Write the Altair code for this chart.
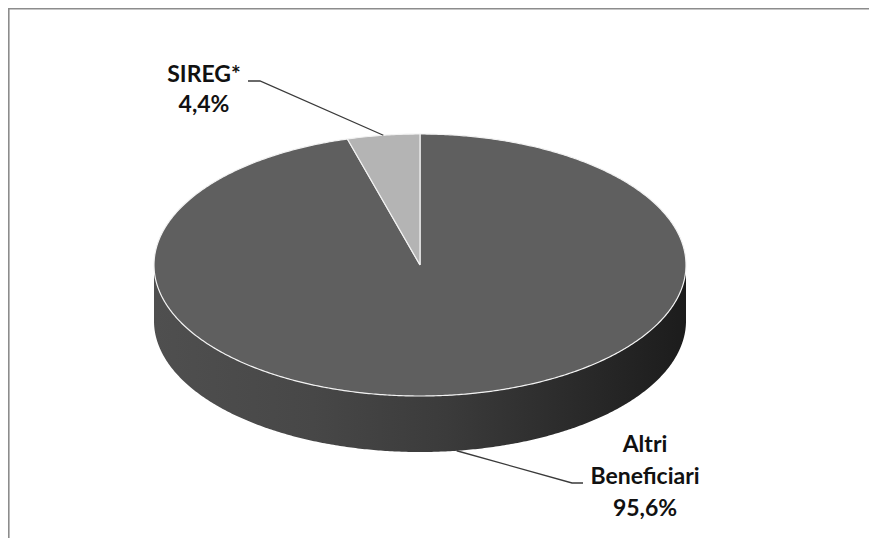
import math
import pandas as pd
import altair as alt

# ---- data ----
categories = ["Altri Beneficiari", "SIREG*"]
values = [95.6, 4.4]
label_lines = [["Altri", "Beneficiari"], ["SIREG*"]]
top_colors = ["#5f5f5f", "#b4b4b4"]

# ---- layout (page pixel units) ----
CX, CY, RX, RY, DEPTH = 420, 265, 266, 131, 56
label_pos = [(645, 452), (204, 82)]
label_line_height = [32, 30]
leader_elbows = [[(572, 483), (583, 483)], [(260, 81), (248, 81)]]


def pt(a_deg, dy=0.0):
    a = math.radians(a_deg)
    return CX + RX * math.sin(a), CY - RY * math.cos(a) + dy


def arc(a0, a1, dy=0.0, step=0.5):
    n = max(2, int(abs(a1 - a0) / step) + 1)
    return [pt(a0 + (a1 - a0) * k / (n - 1), dy) for k in range(n)]


total = sum(values)
starts, ends = [], []
acc = 0.0
for v in values:
    starts.append(360 * acc / total)
    acc += v
    ends.append(360 * acc / total)

X = alt.X("x:Q", scale=alt.Scale(domain=[8, 869], nice=False, zero=False), axis=None)
Y = alt.Y("y:Q", scale=alt.Scale(domain=[8, 538], nice=False, zero=False, reverse=True), axis=None)


def poly_df(points):
    return pd.DataFrame({"x": [p[0] for p in points], "y": [p[1] for p in points], "i": range(len(points))})


layers = []

# side walls (visible front half: 90..270 deg)
side_grad = alt.Gradient(
    gradient="linear",
    stops=[
        alt.GradientStop(color="#4f4f4f", offset=0),
        alt.GradientStop(color="#474747", offset=0.3),
        alt.GradientStop(color="#3b3b3b", offset=0.55),
        alt.GradientStop(color="#2b2b2b", offset=0.78),
        alt.GradientStop(color="#1c1c1c", offset=1),
    ],
    x1=0, x2=1, y1=0, y2=0,
)
for s, e in zip(starts, ends):
    a0, a1 = max(s, 90), min(e, 270)
    if a1 > a0:
        pts = arc(a0, a1) + arc(a1, a0, DEPTH)
        pts.append(pts[0])
        layers.append(
            alt.Chart(poly_df(pts)).mark_line(fill=side_grad, strokeWidth=0, strokeOpacity=0)
            .encode(x=X, y=Y, order="i:Q")
        )

# top faces
for s, e, c in zip(starts, ends, top_colors):
    pts = [(CX, CY)] + arc(s, e) + [(CX, CY)]
    layers.append(
        alt.Chart(poly_df(pts)).mark_line(fill=c, stroke="#f2f2f2", strokeWidth=1.2, strokeJoin="round")
        .encode(x=X, y=Y, order="i:Q")
    )

# leader lines
for k, (s, e) in enumerate(zip(starts, ends)):
    mid = (s + e) / 2
    dy = DEPTH if 90 < mid < 270 else 0
    anchor = pt(mid, dy)
    pts = [anchor] + leader_elbows[k]
    layers.append(
        alt.Chart(poly_df(pts)).mark_line(color="#3a3a3a", strokeWidth=1.3)
        .encode(x=X, y=Y, order="i:Q")
    )

# labels
for k, v in enumerate(values):
    txt = "\n".join(label_lines[k] + [f"{v:.1f}%".replace(".", ",")])
    df = pd.DataFrame({"x": [label_pos[k][0]], "y": [label_pos[k][1]], "t": [txt]})
    layers.append(
        alt.Chart(df).mark_text(
            align="center", baseline="alphabetic", font="Lato", fontWeight="bold",
            fontSize=23, lineBreak="\n", lineHeight=label_line_height[k], color="#111111",
        ).encode(x=X, y=Y, text="t:N")
    )

# frame (top and left border)
layers.append(
    alt.Chart(pd.DataFrame({"a": [0]})).mark_rule(color="#8c8c8c", strokeWidth=1.6)
    .encode(x=alt.value(0), x2=alt.value(861), y=alt.value(0.8))
)
layers.append(
    alt.Chart(pd.DataFrame({"a": [0]})).mark_rule(color="#8c8c8c", strokeWidth=1.6)
    .encode(x=alt.value(0.8), y=alt.value(0), y2=alt.value(530))
)

chart = alt.layer(*layers).properties(
    width=861, height=530, padding=0, autosize=alt.AutoSizeParams(type="none"), background="white"
).configure_view(stroke=None)

chart.save("out.html", embed_options={"renderer": "svg", "actions": False})
